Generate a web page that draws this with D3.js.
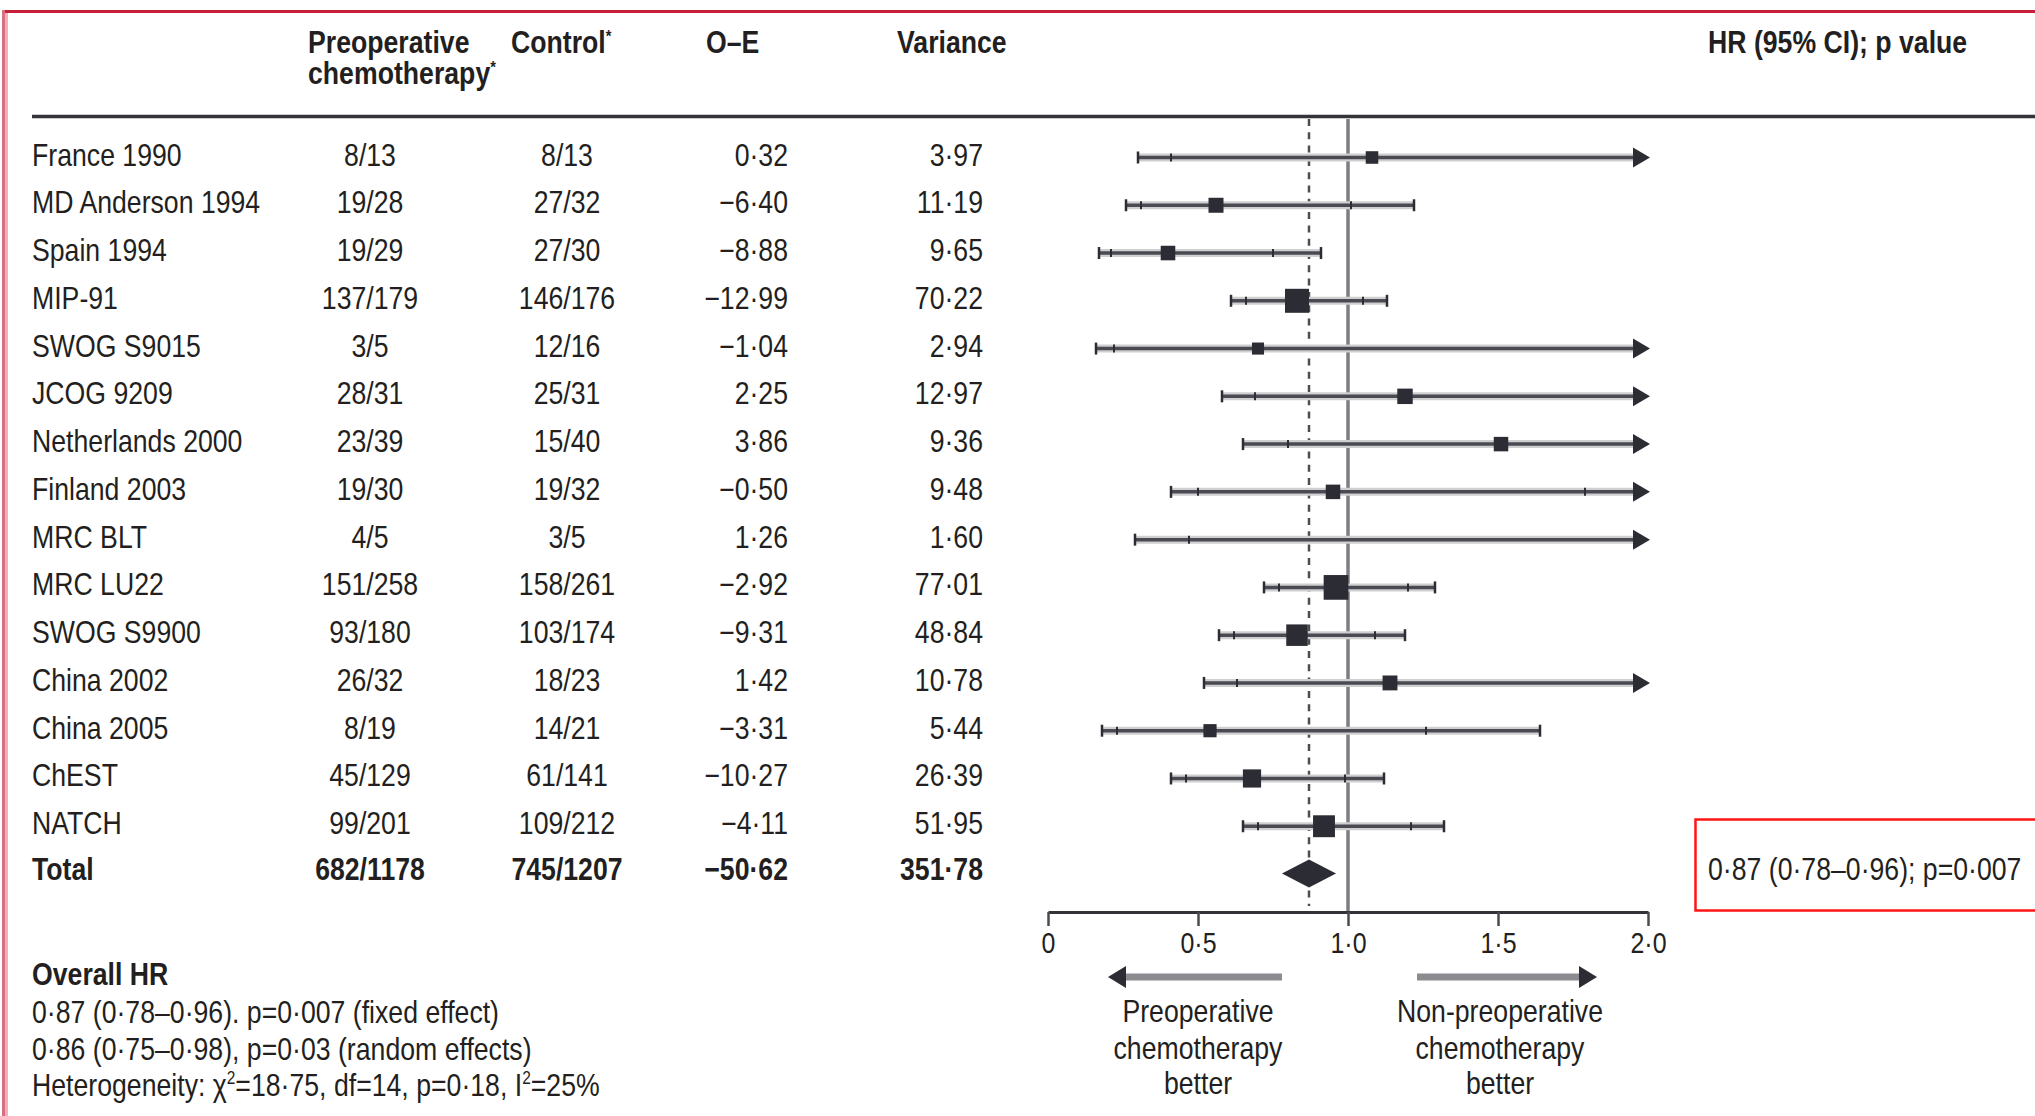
<!DOCTYPE html>
<html>
<head>
<meta charset="utf-8">
<script src="https://cdn.jsdelivr.net/npm/d3@7/dist/d3.min.js"></script>
<style>
  html, body { margin: 0; padding: 0; background: #fff; }
  svg { display: block; }
</style>
</head>
<body>
<script>
// Trials included in the meta-analysis (rows top to bottom)
const studies = ["France 1990", "MD Anderson 1994", "Spain 1994", "MIP-91", "SWOG S9015",
  "JCOG 9209", "Netherlands 2000", "Finland 2003", "MRC BLT", "MRC LU22", "SWOG S9900",
  "China 2002", "China 2005", "ChEST", "NATCH"];
// Events / patients
const preop = ["8/13", "19/28", "19/29", "137/179", "3/5", "28/31", "23/39", "19/30", "4/5",
  "151/258", "93/180", "26/32", "8/19", "45/129", "99/201"];
const control = ["8/13", "27/32", "27/30", "146/176", "12/16", "25/31", "15/40", "19/32", "3/5",
  "158/261", "103/174", "18/23", "14/21", "61/141", "109/212"];
const oe = [0.32, -6.40, -8.88, -12.99, -1.04, 2.25, 3.86, -0.50, 1.26, -2.92, -9.31, 1.42, -3.31, -10.27, -4.11];
const variance = [3.97, 11.19, 9.65, 70.22, 2.94, 12.97, 9.36, 9.48, 1.60, 77.01, 48.84, 10.78, 5.44, 26.39, 51.95];
// Hazard ratios with 95% (inner ticks) and 99% (line ends) confidence limits
const hr = [1.08, 0.56, 0.40, 0.83, 0.70, 1.19, 1.51, 0.95, 2.20, 0.96, 0.83, 1.14, 0.54, 0.68, 0.92];
const ci95Low = [0.41, 0.31, 0.21, 0.66, 0.22, 0.69, 0.80, 0.50, 0.47, 0.77, 0.62, 0.63, 0.23, 0.46, 0.70];
const ci95High = [2.90, 1.01, 0.75, 1.05, 2.20, 2.05, 2.87, 1.79, 10.35, 1.20, 1.09, 2.07, 1.26, 0.99, 1.21];
const ci99Low = [0.30, 0.26, 0.17, 0.61, 0.16, 0.58, 0.65, 0.41, 0.29, 0.72, 0.57, 0.52, 0.18, 0.41, 0.65];
const ci99High = [3.95, 1.22, 0.91, 1.13, 3.15, 2.43, 3.51, 2.19, 16.8, 1.29, 1.19, 2.50, 1.64, 1.12, 1.32];
// Pooled result
const totalLabel = "Total";
const totalPreop = "682/1178";
const totalControl = "745/1207";
const totalOE = -50.62;
const totalVariance = 351.78;
const totalHR = 0.87, totalLow = 0.78, totalHigh = 0.96;
const totalText = "0·87 (0·78–0·96); p=0·007";
// Axis
const axisTicks = [0, 0.5, 1, 1.5, 2];
const axisTickLabels = ["0", "0·5", "1·0", "1·5", "2·0"];

const W = 2035, H = 1116;
const FONT = "'Liberation Sans', Arial, sans-serif";
const NARROW = 0.86;          // horizontal squeeze to get a condensed face
const INK = "#231f20", DARK = "#2c2c34";

// Lancet-style numbers: middle-dot decimal, en-dash minus
const fmt = d => d3.format(".2f")(d).replace("-", "–").replace(".", "·");

const svg = d3.select("body").append("svg")
  .attr("width", W).attr("height", H)
  .style("font-family", FONT);

svg.append("rect").attr("width", W).attr("height", H).attr("fill", "#fff");

// frame
svg.append("rect").attr("x", 2).attr("y", 10).attr("width", 3).attr("height", H - 10).attr("fill", "#d9707f");
svg.append("rect").attr("x", 5).attr("y", 13).attr("width", 3).attr("height", H - 13).attr("fill", "#f1b0bb");
svg.append("rect").attr("x", 5).attr("y", 10).attr("width", W - 5).attr("height", 3).attr("fill", "#c8203a");

const x = d3.scaleLinear().domain([0, 2]).range([1048, 1648]);
const rowNames = studies.concat([totalLabel]);
const y = d3.scalePoint().domain(rowNames).range([157, 873.5]);
const side = d3.scaleSqrt().domain([0, 80]).range([9, 25]);

const TEXT_SIZE = 31;
function txt(g, xx, yy, s, anchor, weight, size) {
  return g.append("text")
    .attr("transform", `translate(${xx},${yy}) scale(${NARROW},1)`)
    .attr("text-anchor", anchor || "start")
    .attr("font-size", size || TEXT_SIZE)
    .attr("font-weight", weight || 400)
    .attr("fill", INK).text(s);
}

// header
const head = svg.append("g");
txt(head, 308, 53, "Preoperative", "start", 700);
const h2 = txt(head, 308, 84, "chemotherapy", "start", 700);
h2.append("tspan").attr("font-size", 17).attr("dy", -11).text("*");
const h3 = txt(head, 511, 53, "Control", "start", 700);
h3.append("tspan").attr("font-size", 17).attr("dy", -11).text("*");
txt(head, 706, 53, "O–E", "start", 700);
txt(head, 897, 53, "Variance", "start", 700);
txt(head, 1708, 53, "HR (95% CI); p value", "start", 700);

svg.append("line").attr("x1", 32).attr("x2", W).attr("y1", 116.5).attr("y2", 116.5)
  .attr("stroke", "#333338").attr("stroke-width", 3.5);

// table columns
const table = svg.append("g");
const BASE = 8.5;
studies.forEach((s, i) => {
  const yy = y(s) + BASE;
  txt(table, 32, yy, s);
  txt(table, 370, yy, preop[i], "middle");
  txt(table, 567, yy, control[i], "middle");
  txt(table, 788, yy, fmt(oe[i]), "end");
  txt(table, 983, yy, fmt(variance[i]), "end");
});
{
  const yy = y(totalLabel) + BASE - 2;
  txt(table, 32, yy, totalLabel, "start", 700);
  txt(table, 370, yy, totalPreop, "middle", 700);
  txt(table, 567, yy, totalControl, "middle", 700);
  txt(table, 788, yy, fmt(totalOE), "end", 700);
  txt(table, 983, yy, fmt(totalVariance), "end", 700);
}

// reference lines: no effect (1.0) and pooled HR
const plotTop = 119, axisY = 912;
svg.append("line").attr("x1", x(1)).attr("x2", x(1)).attr("y1", plotTop).attr("y2", axisY)
  .attr("stroke", "#7d7d82").attr("stroke-width", 3.5);
svg.append("line").attr("x1", x(totalHR)).attr("x2", x(totalHR)).attr("y1", plotTop).attr("y2", axisY - 6)
  .attr("stroke", "#4d4d52").attr("stroke-width", 2.5).attr("stroke-dasharray", "7,6.3");

// study confidence intervals and boxes
const forest = svg.append("g");
const clampX = v => x(Math.max(0, Math.min(2, v)));
studies.forEach((s, i) => {
  const yy = y(s) + 0.5;
  const x0 = clampX(ci99Low[i]);
  const arrow = ci99High[i] > 2;
  const x1 = arrow ? x(2) - 14 : clampX(ci99High[i]);
  forest.append("line").attr("x1", x0).attr("x2", x1).attr("y1", yy).attr("y2", yy)
    .attr("stroke", "#cfcfd2").attr("stroke-width", 8);
  forest.append("line").attr("x1", x0).attr("x2", x1).attr("y1", yy).attr("y2", yy)
    .attr("stroke", "#4a4a52").attr("stroke-width", 3.5);
  // 99% limit ticks
  forest.append("line").attr("x1", x0).attr("x2", x0).attr("y1", yy - 6).attr("y2", yy + 6)
    .attr("stroke", DARK).attr("stroke-width", 2.5);
  if (!arrow) {
    forest.append("line").attr("x1", x1).attr("x2", x1).attr("y1", yy - 6).attr("y2", yy + 6)
      .attr("stroke", DARK).attr("stroke-width", 2.5);
  } else {
    forest.append("path")
      .attr("d", `M${x(2) - 15},${yy - 10} L${x(2) + 2},${yy} L${x(2) - 15},${yy + 10} Z`)
      .attr("fill", DARK);
  }
  // 95% limit ticks
  [ci95Low[i], ci95High[i]].forEach(v => {
    if (v <= 2 && v >= 0) {
      forest.append("line").attr("x1", x(v)).attr("x2", x(v)).attr("y1", yy - 4).attr("y2", yy + 4)
        .attr("stroke", DARK).attr("stroke-width", 2);
    }
  });
  if (hr[i] <= 2) {
    const a = side(variance[i]);
    forest.append("rect").attr("x", x(hr[i]) - a / 2).attr("y", yy - a / 2)
      .attr("width", a).attr("height", a).attr("fill", DARK);
  }
});

// pooled diamond
{
  const yy = y(totalLabel);
  forest.append("path")
    .attr("d", `M${x(totalLow)},${yy} L${x(totalHR)},${yy - 14} L${x(totalHigh)},${yy} L${x(totalHR)},${yy + 14} Z`)
    .attr("fill", DARK);
}

// pooled HR text in highlight box
svg.append("rect").attr("x", 1695.5).attr("y", 819.5).attr("width", 400).attr("height", 91)
  .attr("fill", "none").attr("stroke", "#ff1414").attr("stroke-width", 2.5);
txt(svg, 1708, 880, totalText);

// x axis
const axis = d3.axisBottom(x).tickValues(axisTicks)
  .tickFormat((d, i) => axisTickLabels[i]).tickSize(14).tickSizeOuter(0).tickPadding(6);
const ax = svg.append("g").attr("transform", `translate(0,${axisY})`).call(axis);
ax.select(".domain").attr("stroke", "#333338").attr("stroke-width", 3);
ax.selectAll(".tick line").attr("stroke", "#4a4a50").attr("stroke-width", 2.5);
ax.selectAll(".tick text")
  .attr("font-size", 29).attr("font-family", FONT).attr("fill", INK)
  .attr("transform", `scale(${NARROW},1)`)
  .attr("x", 0);

// direction arrows
function dirArrow(from, to, tip) {
  const yy = 977;
  svg.append("line").attr("x1", x(from)).attr("x2", x(to)).attr("y1", yy).attr("y2", yy)
    .attr("stroke", "#8c8c90").attr("stroke-width", 7);
  const base = x(to), t = x(tip);
  svg.append("path").attr("d", `M${base},${yy - 11} L${t},${yy} L${base},${yy + 11} Z`).attr("fill", DARK);
}
dirArrow(0.78, 0.26, 0.20);
dirArrow(1.23, 1.77, 1.83);

const leftLabel = ["Preoperative", "chemotherapy", "better"];
const rightLabel = ["Non-preoperative", "chemotherapy", "better"];
const labelBase = [1022, 1059, 1094];
leftLabel.forEach((s, i) => txt(svg, x(0.5), labelBase[i], s, "middle"));
rightLabel.forEach((s, i) => txt(svg, x(1.5) + 2, labelBase[i], s, "middle"));

// overall summary
const foot = svg.append("g");
txt(foot, 32, 985, "Overall HR", "start", 700);
txt(foot, 32, 1023, "0·87 (0·78–0·96). p=0·007 (fixed effect)");
txt(foot, 32, 1060, "0·86 (0·75–0·98), p=0·03 (random effects)");
const het = txt(foot, 32, 1096, "Heterogeneity: χ");
het.append("tspan").attr("font-size", 18).attr("dy", -12).text("2");
het.append("tspan").attr("dy", 12).text("=18·75, df=14, p=0·18, I");
het.append("tspan").attr("font-size", 18).attr("dy", -12).text("2");
het.append("tspan").attr("dy", 12).text("=25%");
</script>
</body>
</html>
